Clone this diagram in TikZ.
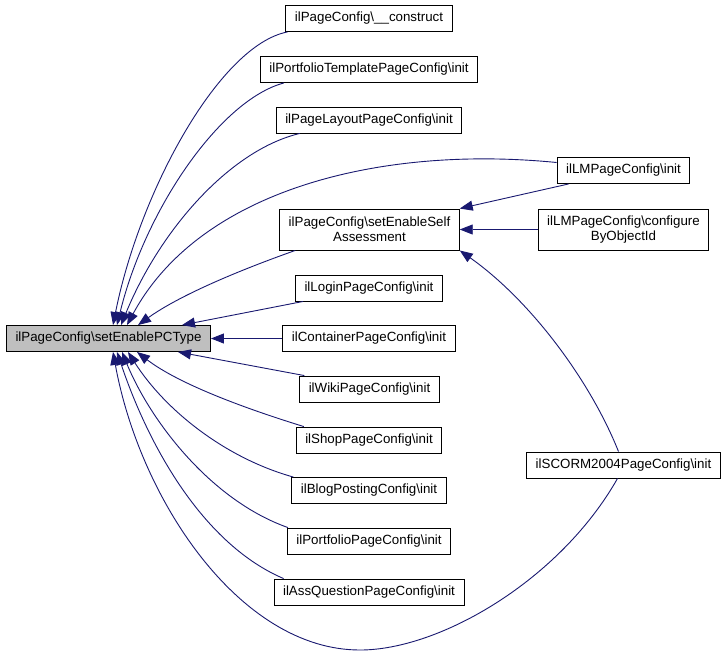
\documentclass[tikz,border=0pt]{standalone}
\usepackage{fontspec}
\setmainfont{Liberation Sans}
\usetikzlibrary{arrows.meta,
	calc}

\begin{document}
\begin{tikzpicture}[x=1pt,y=-1pt]
        \tikzstyle{fn}=[draw=black,line width=0.9pt,fill=white,inner xsep=9pt,inner ysep=0pt,minimum height=26pt,font=\fontsize{13.33}{15}\selectfont,align=center]
        \tikzstyle{fntwo}=[fn,minimum height=41pt]
        \tikzstyle{callee}=[fn,fill=black!25]
        \tikzstyle{call}=[draw={rgb,255:red,25;green,25;blue,112},line width=0.9pt,-{Triangle[length=13pt,width=10pt]},arrows={[fill={rgb,255:red,25;green,25;blue,112}]}]
        \useasboundingbox (0,0) rectangle (727,656);
        \node[callee] (main) at (108.5,338.5) {ilPageConfig\textbackslash setEnablePCType};
        \node[fn] (construct) at (369,18.5) {ilPageConfig\textbackslash\_\_construct};
        \node[fn] (tplinit) at (369,69.5) {ilPortfolioTemplatePageConfig\textbackslash init};
        \node[fn] (layoutinit) at (369,120) {ilPageLayoutPageConfig\textbackslash init};
        \node[fntwo] (selfassess) at (369.5,229.5) {ilPageConfig\textbackslash setEnableSelf\\Assessment};
        \node[fn] (logininit) at (369,288) {ilLoginPageConfig\textbackslash init};
        \node[fn] (containerinit) at (369,338.5) {ilContainerPageConfig\textbackslash init};
        \node[fn] (wikiinit) at (369.5,389) {ilWikiPageConfig\textbackslash init};
        \node[fn] (shopinit) at (369,440) {ilShopPageConfig\textbackslash init};
        \node[fn] (bloginit) at (369,490.5) {ilBlogPostingConfig\textbackslash init};
        \node[fn] (portfinit) at (369,541) {ilPortfolioPageConfig\textbackslash init};
        \node[fn] (assqinit) at (369,592) {ilAssQuestionPageConfig\textbackslash init};
        \node[fn] (lminit) at (623.5,170.5) {ilLMPageConfig\textbackslash init};
        \node[fntwo] (lmconfig) at (623.5,229.5) {ilLMPageConfig\textbackslash configure\\ByObjectId};
        \node[fn] (scorminit) at (623.5,465) {ilSCORM2004PageConfig\textbackslash init};
        \coordinate (low) at (360,650);
        % callers above
        \draw[call] ([xshift=2pt]construct.south west) .. controls (220,45) and (140,190) .. ([xshift=4.5pt]main.north);
        \draw[call] ([xshift=24pt]tplinit.south west) .. controls (220,100) and (145,210) .. ([xshift=8.5pt]main.north);
        \draw[call] ([xshift=24pt]layoutinit.south west) .. controls (230,150) and (160,230) .. ([xshift=12.5pt]main.north);
        \draw[call] ([yshift=8pt]lminit.west) .. controls (380,145) and (200,190) .. ([xshift=18.5pt]main.north);
        \draw[call] ([xshift=16pt]selfassess.south west) .. controls (240,270) and (180,295) .. ([xshift=29.5pt]main.north);
        \draw[call] ([xshift=8pt]logininit.south west) -- ([xshift=73.5pt]main.north);
        \draw[call] (containerinit.west) -- (main.east);
        % callers below
        \draw[call] ([xshift=5pt]wikiinit.north west) -- ([xshift=69.5pt]main.south);
        \draw[call] ([xshift=8pt]shopinit.north west) .. controls (250,410) and (180,385) .. ([xshift=28.5pt]main.south);
        \draw[call] ([xshift=2pt]bloginit.north west) .. controls (225,458) and (165,410) .. ([xshift=19.5pt]main.south);
        \draw[call] ([xshift=1pt]portfinit.north west) .. controls (210,500) and (150,420) .. ([xshift=13.5pt]main.south);
        \draw[call] ([xshift=10pt]assqinit.north west) .. controls (205,545) and (150,450) .. ([xshift=8.5pt]main.south);
        \draw[call] ([xshift=-6pt]scorminit.south) .. controls (560,580) and (440,650) .. (low)
                .. controls (240,650) and (140,500) .. ([xshift=4.5pt]main.south);
        % callers of setEnableSelfAssessment
        \draw[call] ([xshift=12pt]lminit.south west) -- (selfassess.north east);
        \draw[call] (lmconfig.west) -- (selfassess.east);
        \draw[call] ([xshift=-5pt]scorminit.north) .. controls (590,380) and (530,300) .. (selfassess.south east);
      \end{tikzpicture}
\end{document}
